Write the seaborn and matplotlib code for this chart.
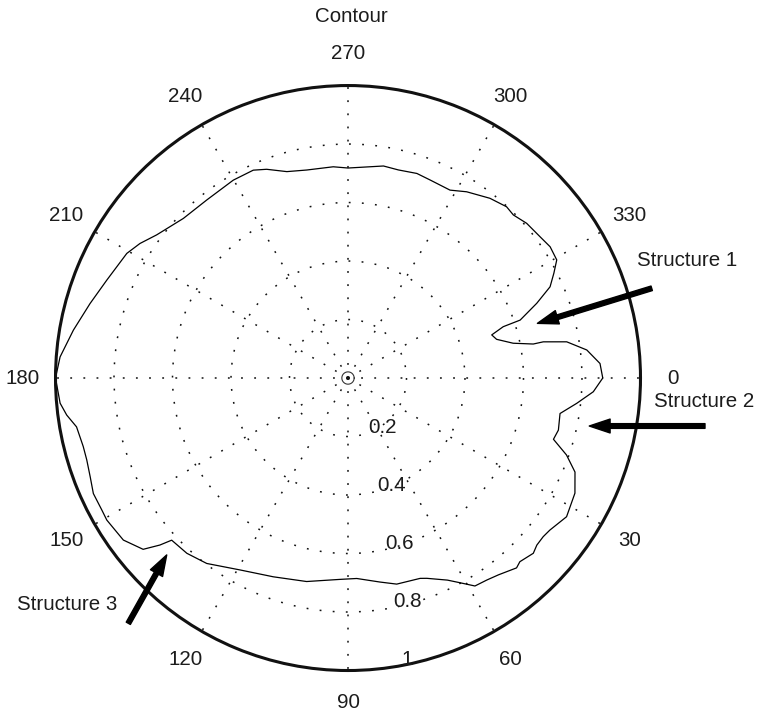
import numpy as np
import pandas as pd
import matplotlib
matplotlib.use("Agg")
import matplotlib.pyplot as plt
import matplotlib.transforms as mtransforms
import seaborn as sns

# contour trace (angle in degrees, clockwise from east)
theta_deg = [0, 3.2, 6.3, 9.5, 13.9, 16.6, 19.4, 22.5, 26.9, 32.4,
             37.0, 39.1, 41.5, 43.4, 46.9, 48.4, 52.6, 55.5, 58.6, 61.3,
             63.8, 68.5, 70.2, 76.7, 81.1, 87.5, 92.3, 101.5, 110.6, 119.4,
             127.3, 132.6, 137.4, 138.4, 140.1, 144.2, 149.5, 151.8, 155.6, 159.0,
             162.6, 165.5, 169.8, 172.5, 175.0, 180.0, 184.2, 189.9, 196.1, 202.1,
             209.4, 212.9, 216.8, 224.1, 231.6, 239.9, 245.5, 248.7, 253.5, 258.8,
             266.0, 270.0, 279.5, 283.6, 288.6, 292.5, 298.5, 302.5, 308.3, 312.8,
             315.4, 319.1, 323.6, 327.0, 330.5, 333.0, 335.7, 338.4, 341.4, 341.7,
             343.3, 345.4, 348.1, 349.6, 349.5, 350.6, 353.3, 356.7, 360.0]
radius = [0.871, 0.840, 0.787, 0.735, 0.741, 0.733, 0.792, 0.840, 0.870, 0.885,
          0.864, 0.860, 0.862, 0.872, 0.860, 0.868, 0.847, 0.838, 0.833, 0.798,
          0.770, 0.736, 0.728, 0.724, 0.706, 0.686, 0.689, 0.710, 0.726, 0.753,
          0.797, 0.814, 0.819, 0.860, 0.913, 0.947, 0.957, 0.955, 0.956, 0.944,
          0.936, 0.935, 0.943, 0.970, 0.988, 1.000, 0.987, 0.953, 0.918, 0.890,
          0.868, 0.847, 0.817, 0.784, 0.777, 0.782, 0.781, 0.766, 0.736, 0.725,
          0.724, 0.718, 0.735, 0.732, 0.738, 0.733, 0.731, 0.755, 0.783, 0.798,
          0.794, 0.808, 0.815, 0.824, 0.820, 0.790, 0.758, 0.694, 0.621, 0.559,
          0.513, 0.525, 0.577, 0.644, 0.679, 0.758, 0.822, 0.863, 0.871]

angle_ticks = [0, 30, 60, 90, 120, 150, 180, 210, 240, 270, 300, 330]
r_ticks = [0.2, 0.4, 0.6, 0.8]
r_labels = ["0.2", "0.4", "0.6", "0.8", "1"]

# annotations: label, arrow tip (deg, r), tail in figure pixels, text pos (fig frac)
notes = [
    ("Structure 1", (343.9, 0.674), (651.7, 425.7), (0.8393, 0.6345)),
    ("Structure 2", (11.25, 0.841), (705.0, 288.0), (0.8617, 0.4374)),
    ("Structure 3", (135.7, 0.866), (128.3, 90.7), (0.022, 0.1527)),
]

sns.set_style("white")
plt.rcParams["font.family"] = ["Liberation Sans", "DejaVu Sans"]
txt_color = "#1c1c1c"
fs = 14.8

df = pd.DataFrame({"theta": np.deg2rad(theta_deg), "r": radius})

fig = plt.figure(figsize=(7.59, 7.14), dpi=100)
ax = fig.add_axes([0.0731, 0.0609, 0.7708, 0.8193], projection="polar")
ax.set_theta_zero_location("E")
ax.set_theta_direction(-1)
ax.set_ylim(0, 1)

ax.set_xticks(np.deg2rad(angle_ticks))
ax.set_xticklabels([])
ax.set_yticks(r_ticks)
ax.set_yticklabels([])
ax.tick_params(length=0)
ax.grid(True, color="#111111", linestyle=(0, (1.2, 7.4)), linewidth=1.1)
ax.spines["polar"].set_linewidth(2.2)
ax.spines["polar"].set_color("#111111")

# tiny circle at the centre
t = np.linspace(0, 2 * np.pi, 100)
ax.plot(t, np.full_like(t, 0.021), color="#333333", lw=0.8)

sns.lineplot(data=df, x="theta", y="r", ax=ax, sort=False, estimator=None,
             color="black", lw=0.9)
ax.set_xlabel("")
ax.set_ylabel("")

# angle labels
for a in angle_ticks:
    ax.text(np.deg2rad(a), 1.111, str(a), ha="center", va="center",
            fontsize=fs, color=txt_color, clip_on=False)

# radius labels
off = mtransforms.offset_copy(ax.transData, fig=fig, x=9.0, y=5.8, units="points")
for rv, lab in zip(r_ticks + [1.0], r_labels):
    ax.text(np.deg2rad(82), rv, lab, transform=off, ha="left", va="center",
            fontsize=fs, color=txt_color, clip_on=False)

for lab, tip, tail, pos in notes:
    ax.annotate("", xy=(np.deg2rad(tip[0]), tip[1]), xycoords="data",
                xytext=tail, textcoords="figure pixels",
                arrowprops=dict(facecolor="black", edgecolor="black",
                                width=3.4, headwidth=10, headlength=15, shrink=0))
    fig.text(pos[0], pos[1], lab, ha="left", va="center", fontsize=fs, color=txt_color)

fig.text(0.4634, 0.9766, "Contour", ha="center", va="center", fontsize=fs, color=txt_color)

fig.savefig("out.png", dpi=100)
